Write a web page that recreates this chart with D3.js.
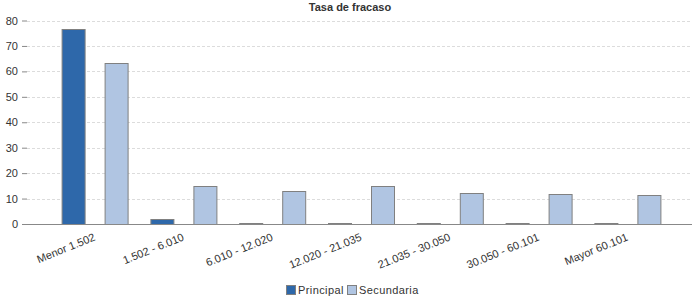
<!DOCTYPE html>
<html>
<head>
<meta charset="utf-8">
<script src="https://cdn.jsdelivr.net/npm/d3@7"></script>
<style>
  body { margin: 0; background: #fff; }
  svg { font-family: "Liberation Sans", Arial, sans-serif; }
</style>
</head>
<body>
<figure id="bar" style="margin:0"></figure>
<script>
// data
const categories = ["Menor 1.502", "1.502 - 6.010", "6.010 - 12.020", "12.020 - 21.035",
                    "21.035 - 30.050", "30.050 - 60.101", "Mayor 60.101"];
const seriesNames = ["Principal", "Secundaria"];
const principal = [76.8, 1.9, 0.3, 0.3, 0.3, 0.3, 0.3];
const secundaria = [63.2, 14.8, 12.85, 14.75, 12.05, 11.7, 11.3];
const yTicks = [0, 10, 20, 30, 40, 50, 60, 70, 80];
const colors = ["#2e68aa", "#b0c5e2"];

const width = 700, height = 300;
const plotLeft = 27, plotRight = 692, plotTop = 20.5, plotBottom = 224;

const data = categories.map((c, i) => ({ cat: c, values: [principal[i], secundaria[i]] }));

const svg = d3.select("figure#bar")
  .append("svg")
  .attr("width", width)
  .attr("height", height);

// title
svg.append("text")
  .attr("x", 350)
  .attr("y", 11)
  .attr("text-anchor", "middle")
  .style("font-size", "11px")
  .style("font-weight", "bold")
  .attr("fill", "#333")
  .text("Tasa de fracaso");

const y = d3.scaleLinear()
  .domain([0, 80])
  .range([plotBottom, plotTop]);

const x0 = d3.scaleBand()
  .domain(categories)
  .range([50.6, 672.2]);

const x1 = d3.scaleBand()
  .domain(seriesNames)
  .range([11.4, 77.4])
  .paddingInner(0.465);

// gridlines
svg.append("g")
  .selectAll("line")
  .data(yTicks.filter(d => d > 0))
  .enter()
  .append("line")
  .attr("x1", plotLeft)
  .attr("x2", plotRight)
  .attr("y1", d => Math.round(y(d)) + 0.5)
  .attr("y2", d => Math.round(y(d)) + 0.5)
  .attr("stroke", "#dcdcdc")
  .attr("stroke-dasharray", "3,2");

// y axis
const yAxis = svg.append("g")
  .attr("transform", "translate(" + plotLeft + ",0)")
  .call(d3.axisLeft(y).tickValues(yTicks).tickSize(5).tickPadding(4));
yAxis.select(".domain").remove();
yAxis.selectAll(".tick line").attr("stroke", "#888");
yAxis.selectAll("text")
  .style("font-size", "11px")
  .attr("fill", "#333");

// bars
const groups = svg.append("g")
  .selectAll("g")
  .data(data)
  .enter()
  .append("g")
  .attr("transform", d => "translate(" + x0(d.cat) + ",0)");

groups.selectAll("rect")
  .data(d => d.values.map((v, k) => ({ name: seriesNames[k], value: v, k: k })))
  .enter()
  .append("rect")
  .attr("x", d => Math.round(x1(d.name)) + 0.5)
  .attr("y", d => Math.round(y(d.value)) + 0.5)
  .attr("width", Math.round(x1.bandwidth()))
  .attr("height", d => Math.max(0, plotBottom - Math.round(y(d.value))))
  .attr("fill", d => colors[d.k])
  .attr("stroke", "#808080")
  .attr("stroke-width", 1);

// x axis baseline
svg.append("line")
  .attr("x1", plotLeft)
  .attr("x2", plotRight)
  .attr("y1", plotBottom + 0.5)
  .attr("y2", plotBottom + 0.5)
  .attr("stroke", "#888")
  .attr("stroke-width", 1);

// x labels, rotated
svg.append("g")
  .selectAll("text")
  .data(categories)
  .enter()
  .append("text")
  .attr("transform", d => "translate(" + (x0(d) + x0.bandwidth() / 2 + 1) + "," + (plotBottom + 16) + ") rotate(-22)")
  .attr("text-anchor", "end")
  .style("font-size", "11px")
  .attr("fill", "#333")
  .text(d => d);

// legend
const legend = svg.append("g").attr("transform", "translate(286,285)");
const legendX = [0, 61];
seriesNames.forEach((name, k) => {
  legend.append("rect")
    .attr("x", legendX[k] + 0.5)
    .attr("y", 0.5)
    .attr("width", 9)
    .attr("height", 9)
    .attr("fill", colors[k])
    .attr("stroke", "#808080");
  legend.append("text")
    .attr("x", legendX[k] + 12)
    .attr("y", 9)
    .style("font-size", "11px")
    .style("letter-spacing", "0.4px")
    .attr("fill", "#333")
    .text(name);
});
</script>
</body>
</html>
